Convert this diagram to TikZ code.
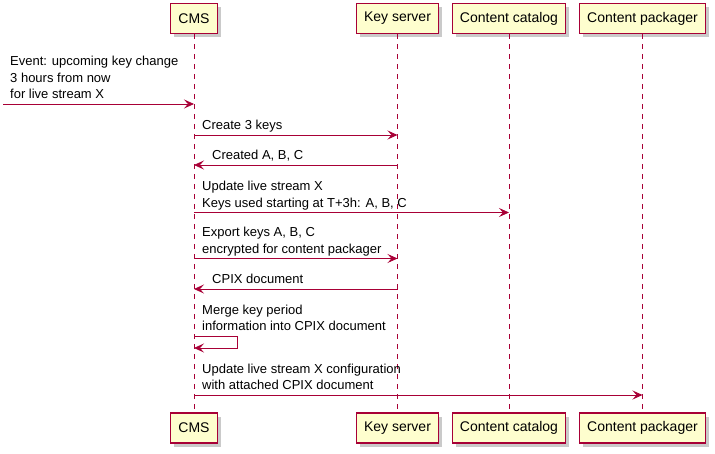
\documentclass[tikz,border=0pt]{standalone}
\usepackage{fontspec}
\setmainfont{Liberation Sans}
\usetikzlibrary{arrows.meta,shadows}

\definecolor{umlred}{HTML}{A80036}
\definecolor{umlfill}{HTML}{FEFECE}

\tikzset{
  actor/.style={draw=umlred, fill=umlfill, line width=1.1pt, minimum height=30pt,
    inner xsep=7.5pt, font=\fontsize{14}{16}\selectfont,
    drop shadow={shadow xshift=3.5pt, shadow yshift=-3.5pt, opacity=0.35, fill=black!60}},
  life/.style={umlred, line width=0.6pt, dash pattern=on 5pt off 5pt},
  msg/.style={umlred, line width=0.8pt, -{Stealth[length=10pt,width=9pt,inset=4pt]}},
  lbl/.style={font=\fontsize{13}{16.5}\selectfont, align=left, anchor=south west,
    inner sep=0pt, text depth=0pt}
}

\begin{document}
\begin{tikzpicture}[x=1pt,y=-1pt]
  \useasboundingbox (0,0) rectangle (715,454);
  \pgfmathsetmacro\toprow{18.5}
  \pgfmathsetmacro\botrow{428}
  \pgfmathsetmacro\gap{5}   % baseline of a label above its arrow

% participants, top and bottom
  \node[actor] (cmsT) at (194,\toprow) {CMS};
  \node[actor] (keyT) at (397.5,\toprow) {Key server};
  \node[actor] (catT) at (509,\toprow) {Content catalog};
  \node[actor] (pkgT) at (642.5,\toprow) {Content packager};
  \node[actor] (cmsB) at (194,\botrow) {CMS};
  \node[actor] (keyB) at (397.5,\botrow) {Key server};
  \node[actor] (catB) at (509,\botrow) {Content catalog};
  \node[actor] (pkgB) at (642.5,\botrow) {Content packager};

% lifelines
  \draw[life] (cmsT) -- (cmsB);
  \draw[life] (keyT) -- (keyB);
  \draw[life] (catT) -- (catB);
  \draw[life] (pkgT) -- (pkgB);

% incoming event
  \coordinate (src) at (3,104);
  \draw[msg] (src) -- (cmsT |- src);
  \node[lbl] (evLbl) at (10,104-\gap) {Event: upcoming key change\\3 hours from now\\for live stream X};

% keys
  \draw[msg] (cmsT |- 0,135) -- (keyT |- 0,135);
  \node[lbl] (mkLbl) at (202,135-\gap) {Create 3 keys};
  \draw[msg] (keyT |- 0,165) -- (cmsT |- 0,165);
  \node[lbl] (doneLbl) at (212,165-\gap) {Created A, B, C};

% catalog
  \draw[msg] (cmsT |- 0,212.5) -- (catT |- 0,212.5);
  \node[lbl] (updLbl) at (202,212.5-\gap) {Update live stream X\\Keys used starting at T+3h: A, B, C};

% export
  \draw[msg] (cmsT |- 0,258.5) -- (keyT |- 0,258.5);
  \node[lbl] (expLbl) at (202,258.5-\gap) {Export keys A, B, C\\encrypted for content packager};
  \draw[msg] (keyT |- 0,289) -- (cmsT |- 0,289);
  \node[lbl] (cpixLbl) at (212,289-\gap) {CPIX document};

% merge (self message)
  \draw[msg] (cmsT |- 0,336) -- ++(43,0) -- ++(0,12) -- (cmsT |- 0,348);
  \node[lbl] (mrgLbl) at (202,336-\gap) {Merge key period\\information into CPIX document};

% packager
  \draw[msg] (cmsT |- 0,395) -- (pkgT |- 0,395);
  \node[lbl] (cfgLbl) at (202,395-\gap) {Update live stream X configuration\\with attached CPIX document};

\end{tikzpicture}
\end{document}
